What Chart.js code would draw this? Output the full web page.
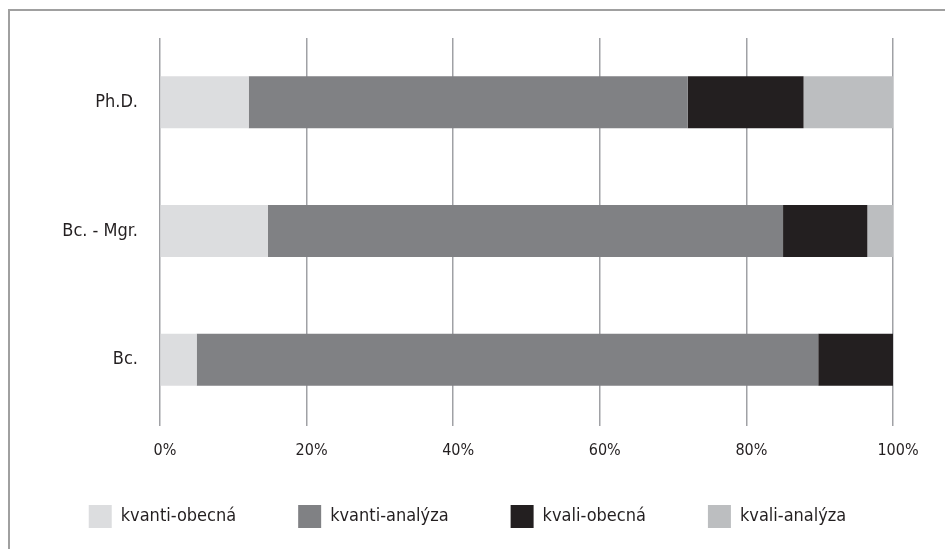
<!DOCTYPE html>
<html>
<head>
<meta charset="utf-8">
<script src="https://cdn.jsdelivr.net/npm/chart.js@4/dist/chart.umd.min.js"></script>
<style>
  html, body { margin: 0; padding: 0; background: #fff; }
  #wrap { position: relative; width: 945px; height: 549px; }
  #frame {
    position: absolute; left: 8px; top: 9px; right: 0; bottom: 0;
    border-top: 2px solid #a0a0a0; border-left: 2px solid #a0a0a0;
    pointer-events: none;
  }
  canvas { position: absolute; left: 0; top: 0; }
</style>
</head>
<body>
<div id="wrap">
  <canvas id="myChart" width="945" height="549"></canvas>
  <div id="frame"></div>
</div>
<script>
const categories = ['Ph.D.', 'Bc. - Mgr.', 'Bc.']
const seriesNames = ['kvanti-obecná', 'kvanti-analýza', 'kvali-obecná', 'kvali-analýza']
// percent shares per category (Ph.D., Bc. - Mgr., Bc.)
const kvantiObecna = [12.1, 14.7, 5.0]
const kvantiAnalyza = [59.9, 70.3, 84.8]
const kvaliObecna = [15.8, 11.5, 10.2]
const kvaliAnalyza = [12.2, 3.5, 0]
const xTicks = [0, 20, 40, 60, 80, 100]

const colors = ['#dcdddf', '#808184', '#231f20', '#bcbec0']
const fontFamily = '"DejaVu Sans Condensed", "DejaVu Sans", sans-serif'

const datasets = [kvantiObecna, kvantiAnalyza, kvaliObecna, kvaliAnalyza].map((values, i) => ({
  label: seriesNames[i],
  data: values,
  backgroundColor: colors[i],
  borderWidth: 0,
  barPercentage: 0.404,
  categoryPercentage: 1.0
}))

const ctx = document.getElementById('myChart').getContext('2d')
new Chart(ctx, {
  type: 'bar',
  data: {
    labels: categories,
    datasets: datasets
  },
  options: {
    indexAxis: 'y',
    responsive: false,
    animation: false,
    layout: {
      padding: { top: 38, right: 10, bottom: 11, left: 0 }
    },
    scales: {
      x: {
        stacked: true,
        min: 0,
        max: 100,
        afterBuildTicks: (scale) => {
          scale.ticks = xTicks.map(v => ({ value: v }))
        },
        afterFit: (scale) => {
          scale.height = 19
          // labels hang below the short axis box, so don't clip them to it
          scale._computeLabelArea = () => undefined
        },
        border: { display: false },
        grid: {
          color: '#a0a1a5',
          lineWidth: 1.5,
          drawTicks: true,
          tickLength: 2
        },
        ticks: {
          padding: 15,
          labelOffset: 5,
          color: '#231f20',
          font: { family: fontFamily, size: 16 },
          callback: (v) => v + '%'
        }
      },
      y: {
        stacked: true,
        afterFit: (scale) => {
          scale.width = 160
        },
        border: { display: false },
        grid: { display: false, drawTicks: false },
        ticks: {
          padding: 22,
          color: '#231f20',
          font: { family: fontFamily, size: 18 }
        }
      },
      // empty spacer on the right so the plot ends at 100% where the reference does
      yRight: {
        type: 'category',
        position: 'right',
        display: true,
        afterFit: (scale) => {
          scale.width = 42
        },
        border: { display: false },
        grid: { display: false, drawTicks: false },
        ticks: { display: false }
      }
    },
    plugins: {
      legend: {
        display: true,
        position: 'bottom',
        labels: {
          boxWidth: 23,
          boxHeight: 23,
          padding: 62,
          color: '#231f20',
          font: { family: fontFamily, size: 18 }
        }
      },
      tooltip: { enabled: false }
    }
  }
})
</script>
</body>
</html>
